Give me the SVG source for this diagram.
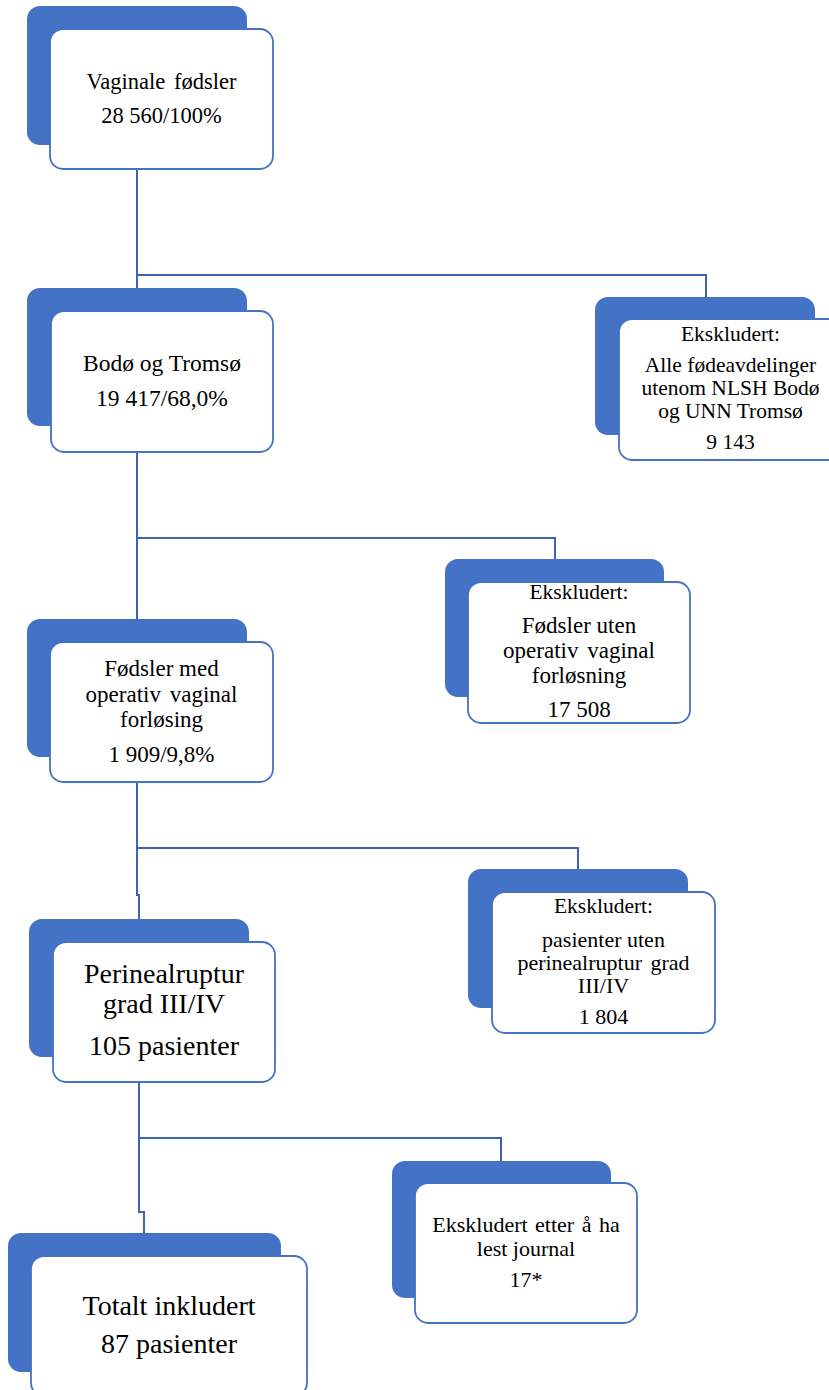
<svg xmlns="http://www.w3.org/2000/svg" width="829" height="1390" viewBox="0 0 829 1390">
<style>
.back{fill:#4472C4}
.front{fill:#FFFFFF;stroke:#4472C4;stroke-width:1.8}
.t{font-family:"Liberation Serif","Times New Roman",serif;fill:#000;text-anchor:middle}
.conn{fill:none;stroke:#3C64B0;stroke-width:2}
</style>
<rect width="829" height="1390" fill="#FFFFFF"/>
<g id="connectors">
<path class="conn" d="M137 169 V288"/>
<path class="conn" d="M137 275 H706 V297"/>
<path class="conn" d="M137 452 V619"/>
<path class="conn" d="M137 538 H555 V559"/>
<path class="conn" d="M137 782 V895 H139 V919"/>
<path class="conn" d="M137 848 H578 V869"/>
<path class="conn" d="M139 1082 V1212 H144 V1233"/>
<path class="conn" d="M139 1138 H501 V1161"/>
</g>
<g id="node-vaginale">
<rect class="back" x="27" y="6" width="220" height="139" rx="13"/>
<rect class="front" x="50" y="29" width="223" height="140" rx="13"/>
<text class="t" font-size="22.5" x="161.5" y="89" word-spacing="3">Vaginale fødsler</text>
<text class="t" font-size="22.5" x="161.5" y="123">28 560/100%</text>
</g>
<g id="node-bodo">
<rect class="back" x="27" y="288" width="220" height="138" rx="13"/>
<rect class="front" x="51" y="311" width="222" height="141" rx="13"/>
<text class="t" font-size="23.5" x="162" y="371">Bodø og Tromsø</text>
<text class="t" font-size="23.5" x="162" y="406">19 417/68,0%</text>
</g>
<g id="node-excl1">
<rect class="back" x="595" y="297" width="220" height="138" rx="13"/>
<rect class="front" x="619" y="319" width="223" height="141" rx="13"/>
<text class="t" font-size="21.5" x="730.5" y="341">Ekskludert:</text>
<text class="t" font-size="21.5" x="730.5" y="372">Alle fødeavdelinger</text>
<text class="t" font-size="21.5" x="730.5" y="395">utenom NLSH Bodø</text>
<text class="t" font-size="21.5" x="730.5" y="418">og UNN Tromsø</text>
<text class="t" font-size="21.5" x="730.5" y="449">9 143</text>
</g>
<g id="node-operativ">
<rect class="back" x="27" y="619" width="220" height="138" rx="13"/>
<rect class="front" x="50" y="642" width="223" height="140" rx="13"/>
<text class="t" font-size="23" x="161.5" y="676">Fødsler med</text>
<text class="t" font-size="23" x="161.5" y="702" word-spacing="3">operativ vaginal</text>
<text class="t" font-size="23" x="161.5" y="727">forløsing</text>
<text class="t" font-size="23" x="161.5" y="762">1 909/9,8%</text>
</g>
<g id="node-excl2">
<rect class="back" x="445" y="559" width="219" height="138" rx="13"/>
<rect class="front" x="468" y="582" width="222" height="141" rx="13"/>
<text class="t" font-size="21.5" x="579" y="599">Ekskludert:</text>
<text class="t" font-size="23" x="579" y="633">Fødsler uten</text>
<text class="t" font-size="23" x="579" y="658" word-spacing="3">operativ vaginal</text>
<text class="t" font-size="23" x="579" y="683">forløsning</text>
<text class="t" font-size="23" x="579" y="717">17 508</text>
</g>
<g id="node-perineal">
<rect class="back" x="29" y="919" width="220" height="138" rx="13"/>
<rect class="front" x="53" y="942" width="222" height="140" rx="13"/>
<text class="t" font-size="28" x="164" y="983">Perinealruptur</text>
<text class="t" font-size="28" x="164" y="1013">grad III/IV</text>
<text class="t" font-size="28" x="164" y="1055">105 pasienter</text>
</g>
<g id="node-excl3">
<rect class="back" x="468" y="869" width="220" height="139" rx="13"/>
<rect class="front" x="492" y="892" width="223" height="141" rx="13"/>
<text class="t" font-size="21.5" x="603.5" y="913">Ekskludert:</text>
<text class="t" font-size="22" x="603.5" y="947">pasienter uten</text>
<text class="t" font-size="22" x="603.5" y="970" word-spacing="3">perinealruptur grad</text>
<text class="t" font-size="22" x="603.5" y="993">III/IV</text>
<text class="t" font-size="22" x="603.5" y="1024">1 804</text>
</g>
<g id="node-excl4">
<rect class="back" x="392" y="1161" width="219" height="137" rx="13"/>
<rect class="front" x="415" y="1183" width="222" height="140" rx="13"/>
<text class="t" font-size="22" x="526" y="1232" word-spacing="2">Ekskludert etter å ha</text>
<text class="t" font-size="22" x="526" y="1256">lest journal</text>
<text class="t" font-size="22" x="526" y="1287">17*</text>
</g>
<g id="node-total">
<rect class="back" x="8" y="1233" width="273" height="139" rx="13"/>
<rect class="front" x="31" y="1256" width="276" height="140" rx="13"/>
<text class="t" font-size="28" x="169" y="1315">Totalt inkludert</text>
<text class="t" font-size="28" x="169" y="1353">87 pasienter</text>
</g>
</svg>
